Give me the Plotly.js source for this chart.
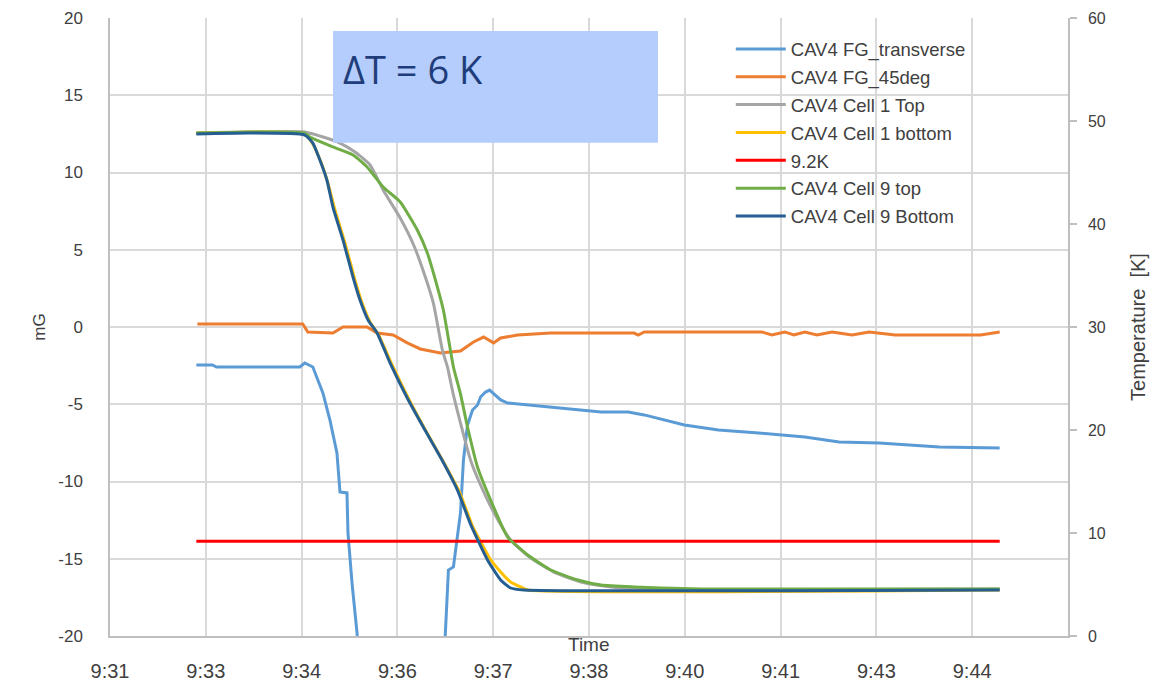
<!DOCTYPE html>
<html>
<head>
<meta charset="utf-8">
<script src="https://cdn.plot.ly/plotly-3.0.1.min.js"></script>
<style>html,body{margin:0;padding:0;background:#fff;}#chart{width:1173px;height:682px;}</style>
</head>
<body>
<div id="chart"></div>
<script>
// Time axis: minutes after 9:00
const tickVals = [31.3, 32.74, 34.18, 35.62, 37.06, 38.5, 39.94, 41.38, 42.82, 44.26, 45.7];
const tickText = ["9:31", "9:33", "9:34", "9:36", "9:37", "9:38", "9:40", "9:41", "9:43", "9:44", ""];
// Left axis (mG) tick labels
const mgTickVals = [-20, -15, -10, -5, 0, 5, 10, 15, 20];
const mgTickText = ["-20", "-15", "-10", "-5", "0", "5", "10", "15", "20"];

// CAV4 FG_transverse (mG, left axis)
const fgTransT = [32.598, 32.840, 32.900, 34.153, 34.228, 34.349, 34.424, 34.500, 34.606, 34.711, 34.757, 34.862, 34.877, 34.938, 35.013, 35.089, 35.662, 36.266, 36.341, 36.387, 36.462, 36.523, 36.568, 36.613, 36.674, 36.749, 36.824, 36.870, 36.945, 37.006, 37.096, 37.172, 37.277, 37.428, 37.926, 38.334, 38.681, 39.089, 39.330, 39.934, 40.447, 41.051, 41.745, 42.258, 42.862, 43.768, 44.673];
const fgTransV = [-2.46, -2.46, -2.59, -2.59, -2.33, -2.59, -3.43, -4.27, -6.02, -8.15, -10.68, -10.74, -13.33, -16.57, -19.80, -24.0, -30.0, -24.0, -19.80, -15.73, -15.53, -13.33, -12.04, -8.61, -6.34, -5.37, -5.05, -4.53, -4.21, -4.08, -4.40, -4.72, -4.92, -4.98, -5.18, -5.37, -5.50, -5.50, -5.69, -6.34, -6.66, -6.86, -7.12, -7.44, -7.51, -7.76, -7.83];

// CAV4 FG_45deg (mG, left axis)
const fg45T = [32.613, 34.198, 34.273, 34.651, 34.802, 35.164, 35.315, 35.556, 35.768, 35.964, 36.266, 36.568, 36.764, 36.915, 37.066, 37.172, 37.428, 37.926, 39.179, 39.240, 39.330, 41.096, 41.247, 41.443, 41.579, 41.745, 41.926, 42.153, 42.454, 42.711, 43.103, 43.254, 44.386, 44.673];
const fg45V = [0.20, 0.20, -0.32, -0.39, 0.00, 0.00, -0.39, -0.52, -1.03, -1.42, -1.68, -1.55, -0.97, -0.65, -1.03, -0.71, -0.52, -0.39, -0.39, -0.52, -0.32, -0.32, -0.52, -0.32, -0.52, -0.32, -0.52, -0.32, -0.52, -0.32, -0.52, -0.52, -0.52, -0.32];

// CAV4 Cell 1 Top (K, right axis)
const c1TopT = [32.598, 34.228, 34.455, 34.757, 34.983, 35.209, 35.406, 35.662, 35.858, 36.009, 36.160, 36.296, 36.372, 36.462, 36.568, 36.719, 36.870, 37.066, 37.322, 37.624, 37.971, 38.379, 38.832, 39.285, 44.673];
const c1TopV = [48.83, 48.93, 48.54, 47.86, 46.99, 45.73, 43.30, 40.58, 38.06, 35.44, 32.33, 27.77, 26.12, 23.40, 20.68, 17.09, 14.66, 12.04, 9.32, 7.57, 6.21, 5.24, 4.76, 4.56, 4.56];

// CAV4 Cell 1 bottom (K, right axis)
const c1BotT = [32.598, 34.228, 34.349, 34.470, 34.575, 34.681, 34.832, 34.983, 35.089, 35.209, 35.345, 35.541, 35.798, 36.040, 36.296, 36.553, 36.749, 37.006, 37.172, 37.322, 37.473, 37.579, 44.673];
const c1BotV = [48.83, 48.74, 47.77, 46.02, 43.98, 41.36, 38.16, 34.56, 32.33, 30.49, 29.13, 26.31, 22.91, 20.00, 17.09, 13.98, 10.68, 7.57, 6.21, 5.24, 4.76, 4.47, 4.47];

// 9.2K reference (K, right axis)
const refT = [32.598, 44.673];
const refV = [9.2, 9.2];

// CAV4 Cell 9 top (K, right axis)
const c9TopT = [32.598, 34.228, 34.304, 34.651, 34.953, 35.164, 35.406, 35.662, 35.919, 36.070, 36.221, 36.311, 36.372, 36.462, 36.568, 36.674, 36.824, 37.021, 37.277, 37.579, 37.926, 38.334, 38.681, 39.179, 39.587, 40.190, 44.673];
const c9TopV = [48.83, 48.83, 48.45, 47.48, 46.70, 45.53, 43.59, 42.14, 39.42, 37.18, 33.88, 31.65, 29.42, 26.12, 23.50, 20.29, 16.41, 13.20, 9.61, 7.86, 6.41, 5.44, 4.95, 4.76, 4.66, 4.56, 4.56];

// CAV4 Cell 9 Bottom (K, right axis)
const c9BotT = [32.598, 33.398, 34.228, 34.349, 34.455, 34.560, 34.651, 34.802, 34.953, 35.058, 35.179, 35.315, 35.511, 35.768, 36.009, 36.266, 36.523, 36.719, 36.975, 37.172, 37.322, 37.519, 44.673];
const c9BotV = [48.74, 48.83, 48.64, 47.86, 46.21, 44.27, 41.65, 38.45, 34.85, 32.62, 30.68, 29.42, 26.50, 23.11, 20.29, 17.38, 14.17, 10.87, 7.38, 5.44, 4.66, 4.47, 4.47];

const names = ["CAV4 FG_transverse", "CAV4 FG_45deg", "CAV4 Cell 1 Top", "CAV4 Cell 1 bottom", "9.2K", "CAV4 Cell 9 top", "CAV4 Cell 9 Bottom"];
const colors = ["#5b9bd5", "#ed7d31", "#a5a5a5", "#ffc000", "#ff0000", "#70ad47", "#255e91"];

function tr(i, x, y, axis, smooth) {
  const line = {color: colors[i], width: 3};
  if (smooth) { line.shape = "spline"; line.smoothing = 0.5; }
  return {
    x: x, y: y, type: "scatter", mode: "lines", name: names[i],
    yaxis: axis, legendgroup: "g" + i,
    line: line, hoverinfo: "x+y+name"
  };
}

const data = [
  tr(0, fgTransT, fgTransV, "y", false),
  tr(1, fg45T, fg45V, "y", false),
  tr(2, c1TopT, c1TopV, "y2", true),
  tr(3, c1BotT, c1BotV, "y2", true),
  tr(4, refT, refV, "y2", false),
  tr(5, c9TopT, c9TopV, "y2", true),
  tr(6, c9BotT, c9BotV, "y2", true)
];

const baseFont = "Liberation Sans, Arial, sans-serif";

const layout = {
  width: 1173, height: 682,
  margin: {l: 110, r: 105, t: 18, b: 46, pad: 0},
  paper_bgcolor: "#ffffff", plot_bgcolor: "#ffffff",
  font: {family: baseFont, color: "#404040"},
  showlegend: true,
  legend: {
    x: 0.648, y: 0.98, xanchor: "left", yanchor: "top",
    bgcolor: "rgba(0,0,0,0)", tracegroupgap: 0.8, itemwidth: 50,
    font: {family: baseFont, size: 18.5, color: "#404040"}
  },
  xaxis: {
    range: [31.3, 45.7], tickmode: "array", tickvals: tickVals, ticktext: tickText,
    showgrid: true, gridcolor: "#d9d9d9", gridwidth: 1.5,
    showline: true, linecolor: "#bfbfbf", linewidth: 1.5,
    zeroline: false, ticks: "", ticklabelstandoff: 16,
    tickfont: {family: baseFont, size: 20, color: "#404040"}
  },
  yaxis: {
    range: [-20, 20], tickmode: "array", tickvals: mgTickVals, ticktext: mgTickText,
    showgrid: true, gridcolor: "#d9d9d9", gridwidth: 1.5,
    showline: true, linecolor: "#bfbfbf", linewidth: 1.5,
    zeroline: false, ticks: "", ticklabelstandoff: 22,
    tickfont: {family: baseFont, size: 17, color: "#404040"},
    title: {text: "mG", standoff: 8, font: {family: baseFont, size: 17, color: "#404040"}}
  },
  yaxis2: {
    overlaying: "y", side: "right", range: [0, 60], dtick: 10, tick0: 0,
    showgrid: false, zeroline: false,
    showline: true, linecolor: "#bfbfbf", linewidth: 1.5,
    ticks: "outside", ticklen: 7, tickcolor: "#bfbfbf", tickwidth: 1.5,
    ticklabelstandoff: 8,
    tickfont: {family: baseFont, size: 16, color: "#404040"},
    title: {text: "Temperature  [K]", standoff: 26, font: {family: baseFont, size: 20, color: "#404040"}}
  },
  shapes: [{
    type: "rect", xref: "paper", yref: "paper",
    x0: 0.2328, x1: 0.572, y0: 0.798, y1: 0.979,
    fillcolor: "#b4cdfd", line: {width: 0}, layer: "above"
  }],
  annotations: [
    {
      xref: "paper", yref: "paper", x: 0.2412, y: 0.917, xanchor: "left", yanchor: "middle",
      text: "\u0394T = 6 K", showarrow: false,
      font: {family: "Open Sans, Liberation Sans, sans-serif", size: 38, color: "#1f3d7a"}
    },
    {
      xref: "paper", yref: "paper", x: 0.5, y: -0.0145, xanchor: "center", yanchor: "middle",
      text: "Time", showarrow: false,
      font: {family: baseFont, size: 19, color: "#404040"}
    }
  ]
};

Plotly.newPlot("chart", data, layout, {displayModeBar: false, responsive: false});
</script>
</body>
</html>
